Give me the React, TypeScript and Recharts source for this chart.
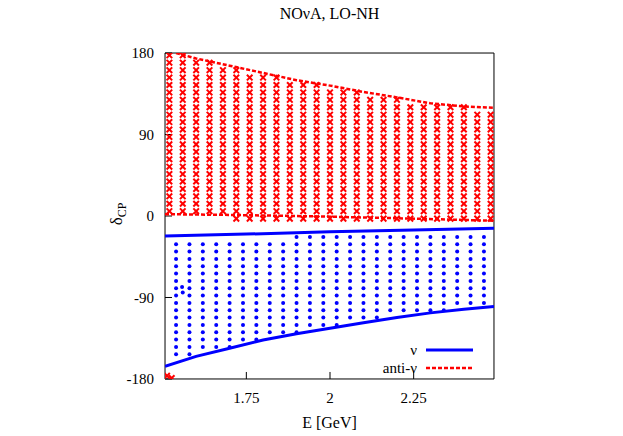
import React from 'react';
import { ComposedChart, Scatter, XAxis, YAxis, Legend } from 'recharts';

const FONT = '"Liberation Serif", "DejaVu Serif", "Times New Roman", serif';
const RED = '#ff0000';
const BLUE = '#0000ff';
const THIN = 0.01; // axes take (almost) no room; the margin holds the labels

// axes
const xDomain = [1.507, 2.49];
const yDomain = [-180, 180];
const xMajor = [1.75, 2, 2.25];
const xMinor = [1.5625, 1.625, 1.6875, 1.8125, 1.875, 1.9375, 2.0625, 2.125, 2.1875, 2.3125, 2.375, 2.4375];
const yMajor = [-180, -90, 0, 90, 180];
const yMinor = [-170, -160, -150, -140, -130, -120, -110, -100, -80, -70, -60, -50, -40, -30, -20, -10,
  10, 20, 30, 40, 50, 60, 70, 80, 100, 110, 120, 130, 140, 150, 160, 170];

// anti-nu allowed region (red crosses)
const redE = [1.52, 1.56, 1.6, 1.64, 1.68, 1.72, 1.76, 1.8, 1.84, 1.88, 1.92, 1.96, 2.0, 2.04, 2.08, 2.12,
  2.16, 2.2, 2.24, 2.28, 2.32, 2.36, 2.4, 2.44, 2.48];
const redRows = [177.5, 169.3, 161.1, 152.9, 144.7, 136.5, 128.3, 120.1, 111.9, 103.7, 95.5, 87.3, 79.1,
  70.9, 62.7, 54.5, 46.3, 38.1, 29.9, 21.7, 13.5, 5.3, -2.9];
const redTop = [177.5, 177.5, 169.3, 169.3, 161.1, 161.1, 152.9, 152.9, 152.9, 144.7, 144.7, 144.7, 136.5,
  136.5, 136.5, 128.3, 128.3, 128.3, 120.1, 120.1, 120.1, 120.1, 120.1, 111.9, 111.9];
const redBottom = [5.3, 5.3, 5.3, 5.3, 5.3, -2.9, -2.9, -2.9, -2.9, -2.9, -2.9, -2.9, -2.9, -2.9, -2.9,
  -2.9, -2.9, -2.9, -2.9, -2.9, -2.9, -2.9, -2.9, -2.9, -2.9];
const redStray = [{ E: 1.513, d: -176.5 }, { E: 1.527, d: -179 }];

const antiNuUpper = [
  { E: 1.54, d: 180 }, { E: 1.6, d: 174 }, { E: 1.7, d: 166 }, { E: 1.8, d: 158 }, { E: 1.9, d: 150 },
  { E: 2.0, d: 144 }, { E: 2.1, d: 137 }, { E: 2.2, d: 131 }, { E: 2.3, d: 124.5 }, { E: 2.4, d: 121 },
  { E: 2.49, d: 119.5 },
];
const antiNuLower = [
  { E: 1.507, d: 2 }, { E: 1.7, d: 1.2 }, { E: 1.97, d: -0.5 }, { E: 2.2, d: -2.5 }, { E: 2.49, d: -5.2 },
];

// nu allowed region (blue dots)
const blueE = [1.54, 1.58, 1.62, 1.66, 1.7, 1.74, 1.78, 1.82, 1.86, 1.9, 1.94, 1.98, 2.02, 2.06, 2.1, 2.14,
  2.18, 2.22, 2.26, 2.3, 2.34, 2.38, 2.42, 2.46];
const blueRows = [-23.1, -31.2, -39.3, -47.4, -55.5, -63.6, -71.7, -79.8, -87.9, -96.0, -104.1, -112.2,
  -120.3, -128.4, -136.5, -144.6, -152.7];
const blueTop = [-31.2, -31.2, -31.2, -31.2, -31.2, -31.2, -31.2, -31.2, -31.2, -23.1, -23.1, -23.1, -23.1,
  -23.1, -23.1, -23.1, -23.1, -23.1, -23.1, -23.1, -23.1, -23.1, -23.1, -23.1];
const blueBottom = [-152.7, -152.7, -144.6, -144.6, -144.6, -136.5, -136.5, -128.4, -128.4, -128.4, -120.3,
  -120.3, -120.3, -112.2, -112.2, -112.2, -104.1, -104.1, -104.1, -104.1, -104.1, -96.0, -96.0, -96.0];
const blueStray = [{ E: 1.558, d: -78.5 }, { E: 1.56, d: -84.5 }];

const nuUpper = [
  { E: 1.507, d: -22 }, { E: 1.75, d: -20 }, { E: 2.0, d: -17.5 }, { E: 2.25, d: -15.5 }, { E: 2.49, d: -13.6 },
];
const nuLower = [
  { E: 1.507, d: -166 }, { E: 1.6, d: -155 }, { E: 1.7, d: -146 }, { E: 1.8, d: -137 }, { E: 1.9, d: -130 },
  { E: 2.0, d: -124 }, { E: 2.1, d: -118 }, { E: 2.2, d: -112 }, { E: 2.3, d: -107 }, { E: 2.4, d: -103 },
  { E: 2.49, d: -100 },
];

const legendItems = [
  { label: 'ν', color: BLUE, width: 3, dash: undefined },
  { label: 'anti-ν', color: RED, width: 2.5, dash: '4 2' },
];

function gridPoints(cols: number[], rows: number[], top: number[], bottom: number[]) {
  const pts: { E: number; d: number }[] = [];
  cols.forEach((E, i) => {
    rows.forEach((d) => {
      if (d <= top[i] && d >= bottom[i]) pts.push({ E, d });
    });
  });
  return pts;
}

const redPoints = gridPoints(redE, redRows, redTop, redBottom).concat(redStray);
const bluePoints = gridPoints(blueE, blueRows, blueTop, blueBottom).concat(blueStray);

const Cross = (props: any) => {
  const { cx, cy } = props;
  if (cx == null || cy == null) return <g />;
  const s = 2.8;
  return (
    <g stroke={RED} strokeWidth={2}>
      <line x1={cx - s} y1={cy - s} x2={cx + s} y2={cy + s} />
      <line x1={cx - s} y1={cy + s} x2={cx + s} y2={cy - s} />
    </g>
  );
};

const Dot = (props: any) => {
  const { cx, cy } = props;
  if (cx == null || cy == null) return <g />;
  return <circle cx={cx} cy={cy} r={2} fill={BLUE} />;
};

const NoShape = () => <g />;

const DeltaLabel = (props: any) => {
  const vb = props.viewBox || { x: 165, y: 53, height: 326 };
  const cx = vb.x - 43;
  const cy = vb.y + vb.height / 2 - 2;
  return (
    <text transform={`translate(${cx},${cy}) rotate(-90)`} textAnchor="middle" fontFamily={FONT} fontSize={17} fill="#000">
      δ<tspan dy={4} fontSize={12}>CP</tspan>
    </text>
  );
};

const LegendBox = () => (
  <div style={{ fontFamily: FONT, fontSize: 15, color: '#000' }}>
    {legendItems.map((it) => (
      <div key={it.label} style={{ display: 'flex', alignItems: 'center', justifyContent: 'flex-end', height: 18 }}>
        <span style={{ marginRight: 9, lineHeight: '18px' }}>{it.label}</span>
        <svg width={47} height={6} style={{ display: 'block' }}>
          <line x1={0} y1={3} x2={47} y2={3} stroke={it.color} strokeWidth={it.width} strokeDasharray={it.dash} />
        </svg>
      </div>
    ))}
  </div>
);

const tickStyle = { fill: '#000', fontSize: 15, fontFamily: FONT };
const axisLine = { stroke: '#000', strokeWidth: 1 };
const tickLine = { stroke: '#000', strokeWidth: 1 };

export default function App() {
  return (
    <div style={{ position: 'absolute', left: 0, top: 0, width: 623, height: 436, background: '#fff' }}>
      <div
        style={{
          position: 'absolute', left: 165, top: 5, width: 329, textAlign: 'center',
          fontFamily: FONT, fontSize: 16, color: '#000', lineHeight: '18px',
        }}
      >
        NOνA, LO-NH
      </div>
      <ComposedChart width={623} height={436} margin={{ top: 53, right: 129, bottom: 57, left: 165 }}>
        {/* minor ticks */}
        <XAxis xAxisId="xmin" type="number" domain={xDomain} ticks={xMinor} interval={0} height={THIN}
          allowDataOverflow tick={false} tickSize={-4} axisLine={false} tickLine={tickLine} />
        <XAxis xAxisId="xtopmin" orientation="top" type="number" domain={xDomain} ticks={xMinor} interval={0}
          height={THIN} allowDataOverflow tick={false} tickSize={-4} axisLine={false} tickLine={tickLine} />
        <YAxis yAxisId="ymin" type="number" domain={yDomain} ticks={yMinor} interval={0} width={THIN}
          allowDataOverflow tick={false} tickSize={-4} axisLine={false} tickLine={tickLine} />
        <YAxis yAxisId="yrightmin" orientation="right" type="number" domain={yDomain} ticks={yMinor} interval={0}
          width={THIN} allowDataOverflow tick={false} tickSize={-4} axisLine={false} tickLine={tickLine} />
        {/* mirrored major ticks / frame */}
        <XAxis xAxisId="xtop" orientation="top" type="number" domain={xDomain} ticks={xMajor} interval={0}
          height={THIN} allowDataOverflow tick={false} tickSize={-7} axisLine={axisLine} tickLine={tickLine} />
        <YAxis yAxisId="yright" orientation="right" type="number" domain={yDomain} ticks={yMajor} interval={0}
          width={THIN} allowDataOverflow tick={false} tickSize={-7} axisLine={axisLine} tickLine={tickLine} />
        {/* main axes */}
        <XAxis xAxisId="x" dataKey="E" type="number" domain={xDomain} ticks={xMajor} interval={0} height={THIN}
          allowDataOverflow tickSize={-7} tickMargin={20} tick={tickStyle} axisLine={axisLine} tickLine={tickLine}
          label={{ value: 'E [GeV]', position: 'bottom', offset: 38, fill: '#000', fontSize: 16, fontFamily: FONT }} />
        <YAxis yAxisId="y" dataKey="d" type="number" domain={yDomain} ticks={yMajor} interval={0} width={THIN}
          allowDataOverflow tickSize={-7} tickMargin={18} tick={tickStyle} axisLine={axisLine} tickLine={tickLine}
          label={<DeltaLabel />} />

        <Scatter xAxisId="x" yAxisId="y" data={redPoints} shape={Cross} isAnimationActive={false} legendType="none" />
        <Scatter xAxisId="x" yAxisId="y" data={bluePoints} shape={Dot} isAnimationActive={false} legendType="none" />
        <Scatter xAxisId="x" yAxisId="y" data={antiNuUpper} shape={NoShape} isAnimationActive={false} legendType="none"
          line={{ stroke: RED, strokeWidth: 2.5, strokeDasharray: '4 2', fill: 'none' }} />
        <Scatter xAxisId="x" yAxisId="y" data={antiNuLower} shape={NoShape} isAnimationActive={false} legendType="none"
          line={{ stroke: RED, strokeWidth: 2.5, strokeDasharray: '4 2', fill: 'none' }} />
        <Scatter xAxisId="x" yAxisId="y" data={nuUpper} shape={NoShape} isAnimationActive={false} legendType="none"
          line={{ stroke: BLUE, strokeWidth: 3, fill: 'none' }} />
        <Scatter xAxisId="x" yAxisId="y" data={nuLower} shape={NoShape} isAnimationActive={false} legendType="none"
          line={{ stroke: BLUE, strokeWidth: 3, fill: 'none' }} />

        <Legend layout="vertical" align="center" verticalAlign="middle" content={<LegendBox />}
          wrapperStyle={{ left: 353, top: 341, width: 120, height: 36 }} />
      </ComposedChart>
    </div>
  );
}
